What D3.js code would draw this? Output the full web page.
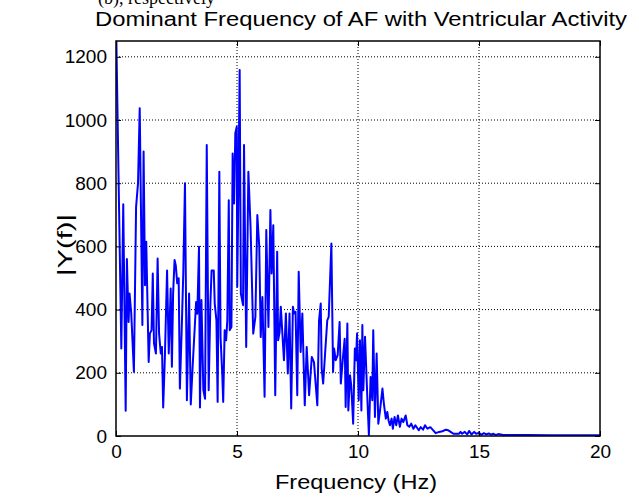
<!DOCTYPE html>
<html>
<head>
<meta charset="utf-8">
<script src="https://cdn.jsdelivr.net/npm/d3@7"></script>
<style>
  html, body { margin: 0; padding: 0; background: #fff; }
  svg { display: block; }
  text { font-family: "Liberation Sans", Arial, Helvetica, sans-serif; fill: #000; }
</style>
</head>
<body>
<svg id="chart" width="639" height="500"></svg>
<script>
// ---- data ----
const titleText = "Dominant Frequency of AF with Ventricular Activity";
const xLabel = "Frequency (Hz)";
const yLabel = "|Y(f)|";
const xTicks = [0, 5, 10, 15, 20];
const yTicks = [0, 200, 400, 600, 800, 1000, 1200];

const freq = [
  0.00, 0.22, 0.30, 0.40, 0.45, 0.52, 0.56, 0.63, 0.74, 0.83, 0.91, 0.98,
  1.09, 1.14, 1.20, 1.25, 1.35, 1.40, 1.47, 1.52, 1.57, 1.65, 1.72, 1.78,
  1.85, 1.90, 1.95, 2.02, 2.11, 2.18, 2.26, 2.31, 2.36, 2.42, 2.47, 2.53,
  2.59, 2.64, 2.71, 2.78, 2.85, 2.93, 3.02, 3.09, 3.17, 3.31, 3.36, 3.43,
  3.47, 3.53, 3.61, 3.68, 3.75, 3.83, 3.90, 3.95, 4.04, 4.08, 4.15, 4.20,
  4.27, 4.32, 4.39, 4.43, 4.49, 4.55, 4.60, 4.66, 4.70, 4.77, 4.82, 4.88,
  4.93, 4.99, 5.01, 5.05, 5.11, 5.16, 5.25, 5.29, 5.38, 5.47, 5.56, 5.67,
  5.76, 5.84, 5.92, 5.98, 6.05, 6.14, 6.21, 6.30, 6.38, 6.43, 6.50, 6.58,
  6.66, 6.70, 6.76, 6.81, 6.94, 7.02, 7.10, 7.17, 7.24, 7.31, 7.36, 7.42,
  7.49, 7.55, 7.63, 7.70, 7.80, 7.88, 7.98, 8.09, 8.18, 8.32, 8.39, 8.46,
  8.50, 8.56, 8.64, 8.73, 8.79, 8.90, 8.97, 9.01, 9.08, 9.16, 9.24, 9.29,
  9.38, 9.45, 9.49, 9.56, 9.60, 9.67, 9.72, 9.80, 9.87, 9.92, 9.96, 10.03,
  10.08, 10.14, 10.18, 10.22, 10.29, 10.39, 10.45, 10.52, 10.59, 10.63, 10.70, 10.77,
  10.84, 10.91, 11.01, 11.07, 11.15, 11.21, 11.26, 11.32, 11.39, 11.44, 11.51, 11.58,
  11.65, 11.73, 11.80, 11.87, 11.97, 12.04, 12.12, 12.20, 12.29, 12.37, 12.51, 12.59,
  12.69, 12.77, 12.87, 12.99, 13.11, 13.21, 13.35, 13.49, 13.63, 13.73, 13.83, 13.94,
  14.04, 14.17, 14.24, 14.30, 14.41, 14.51, 14.59, 14.69, 14.80, 14.88, 15.00, 15.10,
  15.20, 15.30, 15.40, 15.50, 15.60, 15.70, 15.80, 16.00, 17.00, 18.00, 19.00, 20.00
];
const magnitude = [
  1320, 277, 733, 80, 560, 361, 451, 388, 203, 725, 800, 1037,
  351, 900, 477, 615, 234, 324, 335, 514, 293, 261, 562, 324,
  261, 282, 90, 250, 524, 261, 467, 219, 451, 557, 540, 483,
  499, 150, 324, 514, 800, 113, 451, 100, 224, 424, 387, 599,
  90, 430, 145, 118, 921, 145, 419, 524, 524, 419, 366, 108,
  836, 313, 198, 108, 335, 303, 366, 746, 335, 345, 894, 736,
  958, 979, 472, 725, 1158, 451, 414, 921, 282, 836, 662, 324,
  377, 699, 599, 313, 440, 124, 652, 345, 715, 514, 667, 129,
  583, 303, 329, 409, 240, 388, 198, 388, 87, 409, 388, 393,
  129, 520, 266, 388, 97, 282, 129, 250, 234, 97, 366, 419,
  213, 166, 261, 366, 377, 609, 203, 277, 240, 256, 361, 166,
  250, 308, 92, 356, 81, 192, 160, 39, 277, 240, 324, 113,
  303, 81, 351, 145, 314, 113, 2, 187, 113, 335, 60, 261,
  39, 81, 150, 102, 55, 76, 50, 34, 55, 23, 60, 34,
  65, 29, 55, 44, 65, 34, 29, 39, 23, 34, 18, 28,
  20, 34, 23, 28, 18, 9, 13, 15, 20, 18, 13, 7,
  7, 7, 13, 7, 13, 5, 16, 5, 13, 7, 10, 4,
  9, 5, 8, 4, 7, 3, 6, 3, 3, 2, 2, 2
];

// ---- layout ----
const svg = d3.select("#chart");
const mLeft = 116, mRight = 600, mTop = 41, mBottom = 436;

const x = d3.scaleLinear().domain([0, 20]).range([mLeft, mRight]);
const y = d3.scaleLinear().domain([0, 1250]).range([mBottom, mTop]);

// clip
svg.append("defs").append("clipPath").attr("id", "plotclip")
  .append("rect").attr("x", mLeft).attr("y", mTop)
  .attr("width", mRight - mLeft).attr("height", mBottom - mTop);

// cut-off caption fragment at the very top (from the source page)
svg.append("text")
  .attr("x", 98).attr("y", 4)
  .style("font-family", "'Liberation Serif', 'Times New Roman', serif")
  .style("font-size", "18px")
  .attr("fill", "#222")
  .text("(b), respectively");

// grid lines (dotted)
const grid = svg.append("g").attr("stroke", "#000").attr("stroke-width", 1)
  .attr("stroke-dasharray", "1,2");
grid.selectAll("line.vx").data(xTicks.filter(d => d > 0 && d < 20)).enter()
  .append("line").attr("x1", d => x(d)).attr("x2", d => x(d))
  .attr("y1", mTop).attr("y2", mBottom);
grid.selectAll("line.hy").data(yTicks.filter(d => d > 0)).enter()
  .append("line").attr("x1", mLeft).attr("x2", mRight)
  .attr("y1", d => y(d)).attr("y2", d => y(d));

// data line
const pts = freq.map((f, i) => [f, magnitude[i]]);
svg.append("path")
  .datum(pts)
  .attr("clip-path", "url(#plotclip)")
  .attr("fill", "none")
  .attr("stroke", "#0000ff")
  .attr("stroke-width", 2)
  .attr("stroke-linejoin", "round")
  .attr("d", d3.line().x(d => x(d[0])).y(d => y(d[1])));

// axes with inward ticks (MATLAB style)
const tickLen = 5;
const fmt = d3.format("d");
const xAxisB = d3.axisBottom(x).tickValues(xTicks).tickFormat(fmt).tickSizeInner(-tickLen).tickSizeOuter(0).tickPadding(9);
const xAxisT = d3.axisTop(x).tickValues(xTicks).tickSizeInner(-tickLen).tickSizeOuter(0).tickFormat("");
const yAxisL = d3.axisLeft(y).tickValues(yTicks).tickFormat(fmt).tickSizeInner(-tickLen).tickSizeOuter(0).tickPadding(9);
const yAxisR = d3.axisRight(y).tickValues(yTicks).tickSizeInner(-tickLen).tickSizeOuter(0).tickFormat("");

function styleAxis(g) {
  g.select(".domain").remove();
  g.selectAll(".tick line").attr("stroke", "#000").attr("stroke-width", 1);
  g.selectAll("text").style("font-size", "19px").attr("fill", "#000");
}
svg.append("g").attr("transform", `translate(0,${mBottom})`).call(xAxisB).call(styleAxis);
svg.append("g").attr("transform", `translate(0,${mTop})`).call(xAxisT).call(styleAxis);
svg.append("g").attr("transform", `translate(${mLeft},0)`).call(yAxisL).call(styleAxis);
svg.append("g").attr("transform", `translate(${mRight},0)`).call(yAxisR).call(styleAxis);

// frame
svg.append("rect").attr("x", mLeft).attr("y", mTop)
  .attr("width", mRight - mLeft).attr("height", mBottom - mTop)
  .attr("fill", "none").attr("stroke", "#000").attr("stroke-width", 1.5);

// title
svg.append("text")
  .attr("x", 95).attr("y", 26)
  .attr("textLength", 532).attr("lengthAdjust", "spacingAndGlyphs")
  .style("font-size", "20px")
  .text(titleText);

// x label
svg.append("text")
  .attr("x", 275).attr("y", 489)
  .attr("textLength", 162).attr("lengthAdjust", "spacingAndGlyphs")
  .style("font-size", "20px")
  .text(xLabel);

// y label
svg.append("text")
  .attr("transform", "translate(72,276) rotate(-90)")
  .attr("textLength", 62).attr("lengthAdjust", "spacingAndGlyphs")
  .style("font-size", "20px")
  .text(yLabel);
</script>
</body>
</html>
